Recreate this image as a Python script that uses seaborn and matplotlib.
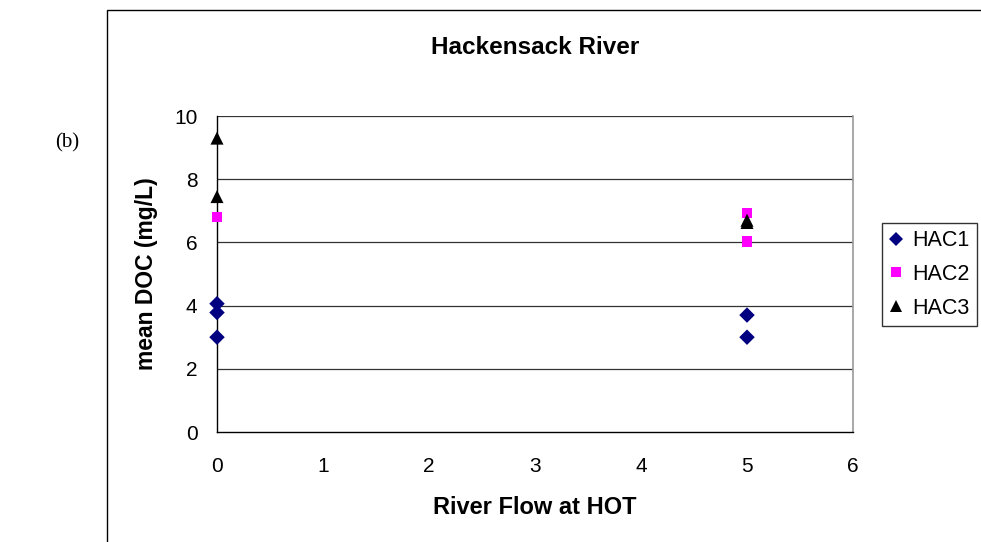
import matplotlib
matplotlib.use('Agg')
import matplotlib.pyplot as plt
import matplotlib.patches as mpatches
import seaborn as sns
import pandas as pd

# values
hac1_flow = [0, 0, 0, 5, 5]
hac1_doc = [3.0, 3.78, 4.06, 3.0, 3.7]
hac2_flow = [0, 5, 5]
hac2_doc = [6.8, 6.03, 6.93]
hac3_flow = [0, 0, 5, 5]
hac3_doc = [7.45, 9.3, 6.63, 6.7]

series_names = ['HAC1', 'HAC2', 'HAC3']
colors = {'HAC1': '#000080', 'HAC2': '#FF00FF', 'HAC3': '#000000'}
markers = {'HAC1': 'D', 'HAC2': 's', 'HAC3': '^'}
marker_sizes = {'HAC1': 62, 'HAC2': 58, 'HAC3': 88}
legend_marker_sizes = {'HAC1': 7.0, 'HAC2': 7.0, 'HAC3': 8.5}

df = pd.concat([
    pd.DataFrame({'flow': hac1_flow, 'doc': hac1_doc, 'site': 'HAC1'}),
    pd.DataFrame({'flow': hac2_flow, 'doc': hac2_doc, 'site': 'HAC2'}),
    pd.DataFrame({'flow': hac3_flow, 'doc': hac3_doc, 'site': 'HAC3'}),
], ignore_index=True)

sns.set_style('white')
plt.rcParams['font.family'] = ['Liberation Sans', 'DejaVu Sans']
plt.rcParams.update({'text.color': 'black', 'axes.labelcolor': 'black',
                     'xtick.color': 'black', 'ytick.color': 'black'})

W, H = 981, 542
fig = plt.figure(figsize=(W / 100, H / 100), dpi=100)
ax = fig.add_axes([217 / W, 1 - 432 / H, (853 - 217) / W, (432 - 116) / H])

# outer chart frame (right/bottom edges run off the page)
fig.patches.append(mpatches.Rectangle((107 / W, -0.1), 1.0, 1 - 10 / H + 0.1,
                                      transform=fig.transFigure, fill=False,
                                      edgecolor='black', linewidth=1.0))

sns.scatterplot(data=df, x='flow', y='doc', hue='site', style='site', size='site',
                hue_order=series_names, style_order=series_names,
                size_order=series_names, sizes=marker_sizes,
                palette=colors, markers=markers, linewidth=0,
                edgecolor='none', ax=ax, legend=True, zorder=3, clip_on=False)

ax.set_xlim(0, 6)
ax.set_ylim(0, 10)
ax.set_xticks(range(0, 7))
ax.set_yticks(range(0, 11, 2))
for yv in range(2, 11, 2):
    ax.axhline(yv, color='#333333', linewidth=0.9, zorder=1)

for side in ['left', 'bottom']:
    ax.spines[side].set_color('black')
    ax.spines[side].set_linewidth(1.0)
ax.spines['right'].set_color('#999999')
ax.spines['right'].set_linewidth(1.2)
ax.spines['top'].set_visible(False)

ax.tick_params(axis='both', which='major', direction='out', length=5,
               width=1.0, color='black', labelsize=15, labelcolor='black')
ax.tick_params(axis='x', pad=13)
ax.tick_params(axis='y', pad=9)

ax.set_xlabel('River Flow at HOT', fontsize=17, fontweight='bold')
ax.set_ylabel('mean DOC (mg/L)', fontsize=16.5, fontweight='bold')
ax.xaxis.label.set_va('center')
ax.yaxis.label.set_va('center')
ax.xaxis.set_label_coords(0.5, (432 - 508) / 316)
ax.yaxis.set_label_coords((147 - 217) / 636, 0.5)

fig.text(535 / W, 1 - 48 / H, 'Hackensack River', ha='center', va='center',
         fontsize=17.5, fontweight='bold')
fig.text(67 / W, 1 - 143 / H, '(b)', ha='center', va='center',
         fontsize=15, family=['Liberation Serif', 'DejaVu Serif'])

handles, labels = ax.get_legend_handles_labels()
for h, lab in zip(handles, labels):
    if hasattr(h, 'set_markersize'):
        h.set_markersize(legend_marker_sizes.get(lab, 7))
    else:
        h.set_sizes([legend_marker_sizes.get(lab, 7) ** 2])
ax.legend(handles, labels, loc='center left',
          bbox_to_anchor=(882 / W, 1 - 274.5 / H), bbox_transform=fig.transFigure,
          frameon=True, fancybox=False, edgecolor='black', fontsize=15.5,
          handlelength=0.6, handletextpad=0.45, borderpad=0.35, labelspacing=0.6,
          borderaxespad=0)
ax.get_legend().get_frame().set_linewidth(1.0)

fig.savefig('out.png', dpi=100)
